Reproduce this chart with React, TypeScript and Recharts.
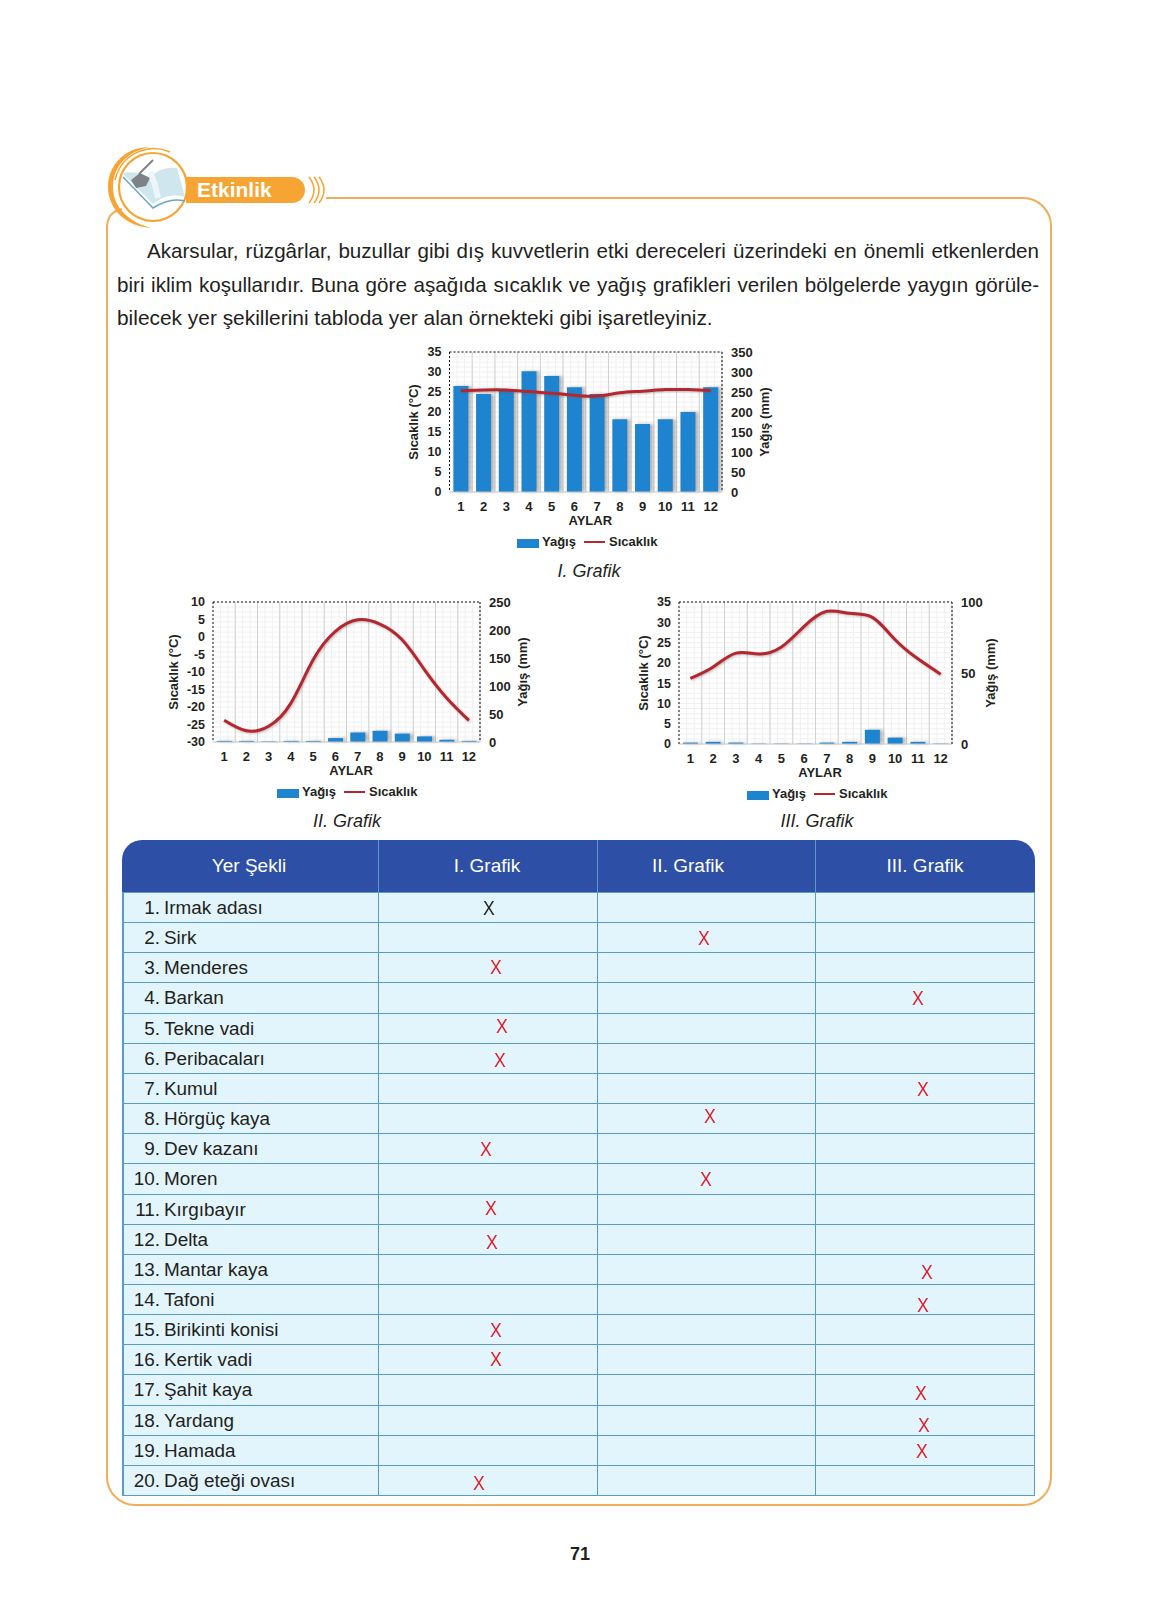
import type { JSX } from 'react';
import {
  Bar,
  CartesianGrid,
  ComposedChart,
  Legend,
  Line,
  ReferenceLine,
  XAxis,
  YAxis,
} from 'recharts';

const months = ['1', '2', '3', '4', '5', '6', '7', '8', '9', '10', '11', '12'];

const rainOne = [265, 245, 255, 302, 290, 262, 245, 182, 170, 182, 200, 262];
const tempOne = [25.3, 25.5, 25.5, 25.1, 24.7, 24.2, 24, 24.8, 25.2, 25.6, 25.6, 25.4];
const rainTwo = [2, 2, 1, 2, 2, 7, 17, 20, 15, 10, 4, 2];
const tempTwo = [-23.8, -26.8, -25.5, -18.9, -6.5, 1.6, 4.9, 3.7, -0.8, -9.3, -17.4, -23.8];
const rainThree = [1, 1.5, 1, 0.3, 0.3, 0.3, 1, 1.5, 10, 4.5, 1.5, 0.3];
const tempThree = [16.2, 19, 22.4, 22.2, 23.9, 29, 32.7, 32.2, 31.2, 25.7, 21, 17.2];

const tempTicksOne = [0, 5, 10, 15, 20, 25, 30, 35];
const rainTicksOne = [0, 50, 100, 150, 200, 250, 300, 350];
const tempTicksTwo = [-30, -25, -20, -15, -10, -5, 0, 5, 10];
const rainTicksTwo = [0, 50, 100, 150, 200, 250];
const rainTicksThree = [0, 50, 100];

const landforms = [
  'Irmak adası', 'Sirk', 'Menderes', 'Barkan', 'Tekne vadi', 'Peribacaları', 'Kumul',
  'Hörgüç kaya', 'Dev kazanı', 'Moren', 'Kırgıbayır', 'Delta', 'Mantar kaya', 'Tafoni',
  'Birikinti konisi', 'Kertik vadi', 'Şahit kaya', 'Yardang', 'Hamada', 'Dağ eteği ovası',
];
const tableHeaders = ['Yer Şekli', 'I. Grafik', 'II. Grafik', 'III. Grafik'];
const headerCentres = [249, 487, 688, 925];
// hand-written answers on the page, so they wander around inside the cells
const markX = [488, 703, 495, 917, 501, 499, 922, 709, 485, 705, 490, 491, 926, 922, 495, 495, 920, 923, 921, 478];
const markY = [908, 938, 967, 998, 1026, 1060, 1089, 1116, 1149, 1179, 1208, 1242, 1272, 1305, 1330, 1359, 1393, 1425, 1451, 1483];

const paragraph = [
  'Akarsular, rüzgârlar, buzullar gibi dış kuvvetlerin etki dereceleri üzerindeki en önemli etkenlerden',
  'biri iklim koşullarıdır. Buna göre aşağıda sıcaklık ve yağış grafikleri verilen bölgelerde yaygın görüle-',
  'bilecek yer şekillerini tabloda yer alan örnekteki gibi işaretleyiniz.',
];

const FONT = '"Liberation Sans", Arial, sans-serif';
const INK = '#231f20';
const tick = { fontWeight: 700, fill: INK, fontFamily: FONT };
const axisLabel = { fontSize: 13, fontWeight: 700, fill: INK, fontFamily: FONT, textAnchor: 'middle' as const };
const dotted = { stroke: '#111', strokeDasharray: '2 2', strokeWidth: 1 };

interface ClimateChartProps {
  readonly left: number;
  readonly top: number;
  readonly rain: number[];
  readonly temp: number[];
  readonly tempTicks: number[];
  readonly rainTicks: number[];
  readonly leftWidth: number;
  readonly rightWidth: number;
  readonly plotHeight: number;
  readonly leftTitleDx: number;
  readonly rightTitleDx: number;
  readonly rightTickGap: number;
  readonly curve: 'monotone' | 'natural';
}

function ChartLegend(): JSX.Element {
  return (
    <div style={{ display: 'flex', alignItems: 'center', paddingLeft: 127, height: 20, fontFamily: FONT, fontSize: 13, fontWeight: 700, color: INK }}>
      <span style={{ width: 22, height: 9, background: '#1f84d0', marginTop: 3 }} />
      <span style={{ marginLeft: 3, marginTop: -1 }}>Yağış</span>
      <span style={{ width: 21, height: 2, background: '#b5262e', marginLeft: 8 }} />
      <span style={{ marginLeft: 4, marginTop: -1 }}>Sıcaklık</span>
    </div>
  );
}

function ClimateChart(props: ClimateChartProps): JSX.Element {
  const { rain, temp, tempTicks, rainTicks, leftWidth, rightWidth, plotHeight } = props;
  const data = months.map((month, i) => ({ month, rain: rain[i], temp: temp[i] }));
  const tempMax = tempTicks[tempTicks.length - 1];
  const bands = months.map((_, i) => i + 1);

  return (
    <div style={{ position: 'absolute', left: props.left, top: props.top }}>
      <ComposedChart
        width={400}
        height={17 + plotHeight + 60}
        data={data}
        barCategoryGap="17%"
        margin={{ top: 17, right: 0, bottom: 0, left: 0 }}
      >
        <CartesianGrid
          stroke="#f0f0f0"
          strokeWidth={1}
          verticalCoordinatesGenerator={({ offset }: any) =>
            Array.from({ length: 36 }, (_, i) => offset.left + (offset.width * i) / 36)}
          horizontalCoordinatesGenerator={({ offset }: any) =>
            Array.from({ length: 28 }, (_, i) => offset.top + (offset.height * i) / 28)}
        />
        <CartesianGrid
          stroke="#d2d2d2"
          strokeWidth={1}
          horizontal={false}
          verticalCoordinatesGenerator={({ offset }: any) =>
            bands.map((b) => offset.left + (offset.width * b) / 12)}
        />
        <XAxis
          dataKey="month"
          interval={0}
          height={40}
          tick={{ ...tick, fontSize: 13 }}
          tickLine={false}
          tickMargin={4}
          axisLine={{ stroke: '#c4c4c4' }}
          label={{ value: 'AYLAR', position: 'insideTop', offset: 24, dx: 4.5, ...axisLabel }}
        />
        <YAxis
          yAxisId="temp"
          orientation="left"
          width={leftWidth}
          domain={[tempTicks[0], tempMax]}
          ticks={tempTicks}
          interval={0}
          tick={{ ...tick, fontSize: 12.5 }}
          tickLine={false}
          tickMargin={2}
          axisLine={dotted}
          label={{ value: 'Sıcaklık (°C)', angle: -90, position: 'center', dx: props.leftTitleDx, ...axisLabel }}
        />
        <YAxis
          yAxisId="rain"
          orientation="right"
          width={rightWidth}
          domain={[rainTicks[0], rainTicks[rainTicks.length - 1]]}
          ticks={rainTicks}
          interval={0}
          tick={{ ...tick, fontSize: 13 }}
          tickLine={false}
          tickMargin={props.rightTickGap}
          axisLine={dotted}
          label={{ value: 'Yağış (mm)', angle: -90, position: 'center', dx: props.rightTitleDx, ...axisLabel }}
        />
        <ReferenceLine yAxisId="temp" y={tempMax} {...dotted} />
        <Bar
          yAxisId="rain"
          dataKey="rain"
          fill="#1f84d0"
          isAnimationActive={false}
          style={{ filter: 'drop-shadow(3px 0px 1.5px rgba(90,90,90,0.45))' }}
        />
        <Line
          yAxisId="temp"
          dataKey="temp"
          type={props.curve}
          stroke="#b5262e"
          strokeWidth={3}
          dot={false}
          isAnimationActive={false}
          style={{ filter: 'drop-shadow(1px 1px 1px rgba(90,90,90,0.4))' }}
        />
        <Legend verticalAlign="bottom" height={20} content={<ChartLegend />} wrapperStyle={{ left: 0, width: 400 }} />
      </ComposedChart>
    </div>
  );
}

function Caption({ x, y, text }: { x: number; y: number; text: string }): JSX.Element {
  return (
    <div style={{ position: 'absolute', left: x - 100, top: y - 12, width: 200, height: 24, lineHeight: '24px', textAlign: 'center', fontFamily: FONT, fontStyle: 'italic', fontSize: 18, color: INK }}>
      {text}
    </div>
  );
}

function PageFrame(): JSX.Element {
  return (
    <svg width={1151} height={1624} style={{ position: 'absolute', left: 0, top: 0 }}>
      <path d="M326 198 H1023 A28 28 0 0 1 1051 226 V1477 A28 28 0 0 1 1023 1505 H135 A28 28 0 0 1 107 1477 V228 Q107 212 122 209" fill="none" stroke="#f0ae5c" strokeWidth={2} />
      <path d="M150 147 C122 147 108 168 108 187 C108 207 124 227 152 228 C130 223 113 208 113 187 C113 166 128 151 150 147 Z" fill="#f6a534" />
      <path d="M170 152 C150 143 122 152 115 180" fill="none" stroke="#f6a534" strokeWidth={1.5} />
      <rect x={186} y={177} width={100} height={26} fill="#f6a534" />
      <path d="M280 177 H292 A13 13 0 0 1 292 203 H280 Z" fill="#f6a534" />
      <path d="M309 177 Q319 190 309 203 M314 177 Q324 190 314 203 M319 177 Q329 190 319 203" fill="none" stroke="#f6a534" strokeWidth={1.5} />
      <circle cx={153} cy={187} r={34} fill="#ffffff" stroke="#f6a534" strokeWidth={2.2} />
      <path d="M122 173 L153 204 Q168 192 185 197 L177 168 Q160 166 150 178 Q136 170 122 173 Z" fill="#cfe6ef" />
      <path d="M123 177 L153 208 Q170 197 185 201" fill="none" stroke="#6aa6c4" strokeWidth={1.5} />
      <path d="M131 180 L140 173 L150 178 L146 186 L136 188 Z" fill="#7b8288" />
      <path d="M139 174 L153 160" stroke="#7b8288" strokeWidth={2} />
      <path d="M150 172 Q155 182 158 198" stroke="#eef5f8" strokeWidth={6} fill="none" />
    </svg>
  );
}

function AnswerTable(): JSX.Element {
  const rowTop = 892;
  const rowH = 30.15;
  const columns = [378, 597, 815];
  return (
    <div style={{ position: 'absolute', left: 0, top: 0, fontFamily: FONT, color: INK }}>
      <div style={{ position: 'absolute', left: 122, top: 840, width: 913, height: 52, background: '#2d50a6', borderRadius: '20px 20px 0 0' }} />
      <div style={{ position: 'absolute', left: 122, top: rowTop, width: 910, height: 602, background: '#e2f5fc', border: '1px solid #5a9cc8', borderLeftWidth: 2, boxSizing: 'content-box' }} />
      {landforms.map((_, i) => (
        <div key={`row${i}`} style={{ position: 'absolute', left: 122, top: rowTop + rowH * (i + 1), width: 913, height: 1, background: i < 19 ? '#5a9cc8' : 'transparent' }} />
      ))}
      {columns.map((x) => (
        <div key={x} style={{ position: 'absolute', left: x, top: 840, width: 1, height: 655, background: '#5a9cc8' }} />
      ))}
      {tableHeaders.map((h, i) => (
        <div key={h} style={{ position: 'absolute', left: headerCentres[i] - 100, top: 853, width: 200, textAlign: 'center', color: '#ffffff', fontSize: 19, lineHeight: '26px' }}>
          {h}
        </div>
      ))}
      {landforms.map((name, i) => (
        <div key={name} style={{ position: 'absolute', left: 120, top: rowTop + rowH * i + 3, height: 26, lineHeight: '26px', fontSize: 18.9, whiteSpace: 'nowrap' }}>
          <span style={{ display: 'inline-block', width: 40, textAlign: 'right' }}>{i + 1}.</span>
          <span style={{ marginLeft: 4 }}>{name}</span>
        </div>
      ))}
      {markX.map((x, i) => (
        <div key={`mark${i}`} style={{ position: 'absolute', left: x - 14, top: markY[i] - 13, width: 30, height: 26, lineHeight: '26px', textAlign: 'center', fontSize: 21, transform: 'scaleX(0.84)', color: i === 0 ? INK : '#e01f2d' }}>
          X
        </div>
      ))}
    </div>
  );
}

export default function App(): JSX.Element {
  return (
    <div style={{ position: 'absolute', left: 0, top: 0, width: 1151, height: 1624, background: '#ffffff', overflow: 'hidden' }}>
      <PageFrame />
      <div style={{ position: 'absolute', left: 197, top: 177, height: 26, lineHeight: '26px', fontFamily: FONT, fontWeight: 700, fontSize: 21, color: '#ffffff' }}>
        Etkinlik
      </div>
      {paragraph.map((line, i) => (
        <div
          key={line}
          style={{
            position: 'absolute',
            left: i === 0 ? 147 : 117,
            top: 238 + i * 33.5,
            width: i === 2 ? 'auto' : i === 0 ? 892 : 922,
            height: 26,
            lineHeight: '26px',
            fontFamily: FONT,
            fontSize: i === 2 ? 20.9 : 20.6,
            color: INK,
            textAlign: 'justify',
            textAlignLast: i === 2 ? 'left' : 'justify',
            whiteSpace: i === 2 ? 'nowrap' : 'normal',
          }}
        >
          {line}
        </div>
      ))}
      <ClimateChart left={390} top={335} rain={rainOne} temp={tempOne} tempTicks={tempTicksOne} rainTicks={rainTicksOne} leftWidth={59.5} rightWidth={68} plotHeight={140} leftTitleDx={-6} rightTitleDx={8} rightTickGap={3} curve="natural" />
      <ClimateChart left={150} top={585} rain={rainTwo} temp={tempTwo} tempTicks={tempTicksTwo} rainTicks={rainTicksTwo} leftWidth={63} rightWidth={70} plotHeight={140} leftTitleDx={-8} rightTitleDx={7} rightTickGap={3} curve="natural" />
      <ClimateChart left={620} top={585} rain={rainThree} temp={tempThree} tempTicks={tempTicksOne} rainTicks={rainTicksThree} leftWidth={59} rightWidth={68} plotHeight={142} leftTitleDx={-6} rightTitleDx={4} rightTickGap={3} curve="natural" />
      <Caption x={589} y={571} text="I. Grafik" />
      <Caption x={347} y={821} text="II. Grafik" />
      <Caption x={817} y={821} text="III. Grafik" />
      <AnswerTable />
      <div style={{ position: 'absolute', left: 540, top: 1542, width: 80, textAlign: 'center', lineHeight: '24px', fontFamily: FONT, fontWeight: 700, fontSize: 18, color: INK }}>
        71
      </div>
    </div>
  );
}
